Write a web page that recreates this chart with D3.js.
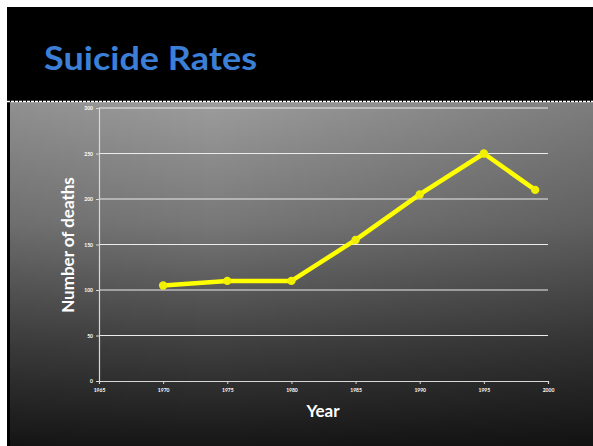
<!DOCTYPE html>
<html><head><meta charset="utf-8">
<script src="https://cdn.jsdelivr.net/npm/d3@7"></script>
<style>html,body{margin:0;padding:0;background:#fff;}svg{display:block;}</style>
</head><body>
<script>
const years = [1970, 1975, 1980, 1985, 1990, 1995, 1999];
const deaths = [105, 110, 110, 155, 205, 250, 210];
const xTicks = [1965, 1970, 1975, 1980, 1985, 1990, 1995, 2000];
const yTicks = [0, 50, 100, 150, 200, 250, 300];

const W = 593, H = 446;
const svg = d3.select("body").append("svg").attr("width", W).attr("height", H);
const defs = svg.append("defs");
const lg = defs.append("linearGradient").attr("id","bg").attr("x1",0).attr("y1",0).attr("x2",0).attr("y2",1);
lg.append("stop").attr("offset","0%").attr("stop-color","#9c9c9c");
lg.append("stop").attr("offset","35%").attr("stop-color","#787878");
lg.append("stop").attr("offset","70%").attr("stop-color","#404040");
lg.append("stop").attr("offset","100%").attr("stop-color","#161616");
const hg = defs.append("linearGradient").attr("id","vig").attr("x1",0).attr("y1",0).attr("x2",1).attr("y2",0);
hg.append("stop").attr("offset","0%").attr("stop-color","#000").attr("stop-opacity",0.08);
hg.append("stop").attr("offset","35%").attr("stop-color","#000").attr("stop-opacity",0);
hg.append("stop").attr("offset","100%").attr("stop-color","#000").attr("stop-opacity",0.2);

svg.append("rect").attr("x",0).attr("y",0).attr("width",W).attr("height",H).attr("fill","#fff");
svg.append("rect").attr("x",7).attr("y",7).attr("width",W-7).attr("height",H-7).attr("fill","#000");
svg.append("rect").attr("x",10).attr("y",102).attr("width",W-10).attr("height",H-102).attr("fill","url(#bg)");
svg.append("rect").attr("x",10).attr("y",102).attr("width",W-10).attr("height",H-102).attr("fill","url(#vig)");
svg.append("line").attr("x1",7).attr("x2",W).attr("y1",101.5).attr("y2",101.5)
  .attr("stroke","#fff").attr("stroke-width",1.5).attr("stroke-dasharray","3,1");

svg.append("text").attr("x",44).attr("y",70).text("Suicide Rates")
  .attr("font-family","Lato, 'Open Sans', sans-serif").attr("font-weight","bold")
  .attr("font-size",32).attr("fill","#3b7fd6").attr("textLength",213).attr("lengthAdjust","spacingAndGlyphs");

const x = d3.scaleLinear().domain([1965, 2000]).range([99, 548]);
const y = d3.scaleLinear().domain([0, 300]).range([381, 108]);

const g = svg.append("g");
g.selectAll(".grid").data(yTicks.filter(d=>d>0)).join("line")
  .attr("x1",99).attr("x2",548).attr("y1",d=>y(d)).attr("y2",d=>y(d))
  .attr("stroke","#ececec").attr("stroke-width",1.2);

const xAxis = g.append("g").attr("transform","translate(0,381)")
  .call(d3.axisBottom(x).tickValues(xTicks).tickFormat(d3.format("d")).tickSize(3).tickPadding(4));
const yAxis = g.append("g").attr("transform","translate(99,0)")
  .call(d3.axisLeft(y).tickValues(yTicks).tickSize(3).tickPadding(3));
[xAxis, yAxis].forEach(a => {
  a.select(".domain").attr("stroke","#d8d8d8").attr("stroke-width",1.2);
  a.selectAll(".tick line").attr("stroke","#d8d8d8");
  a.selectAll("text").attr("fill","#fff").attr("font-size",5).attr("font-weight","bold")
    .attr("font-family","Lato, sans-serif");
});

const line = d3.line().x((d,i)=>x(years[i])).y(d=>y(d));
g.append("path").datum(deaths).attr("d",line).attr("fill","none")
  .attr("stroke","#ffff00").attr("stroke-width",4.5).attr("stroke-linejoin","round");
g.selectAll(".pt").data(deaths).join("circle")
  .attr("cx",(d,i)=>x(years[i])).attr("cy",d=>y(d)).attr("r",4.2).attr("fill","#f0f000");

svg.append("text").attr("transform","translate(74,245) rotate(-90)").attr("text-anchor","middle")
  .text("Number of deaths").attr("font-family","Lato, 'Open Sans', sans-serif").attr("font-weight","bold")
  .attr("font-size",17).attr("fill","#fff");
svg.append("text").attr("x",323).attr("y",417).attr("text-anchor","middle")
  .text("Year").attr("font-family","Lato, 'Open Sans', sans-serif").attr("font-weight","bold")
  .attr("font-size",17).attr("fill","#fff");
</script>
</body></html>
